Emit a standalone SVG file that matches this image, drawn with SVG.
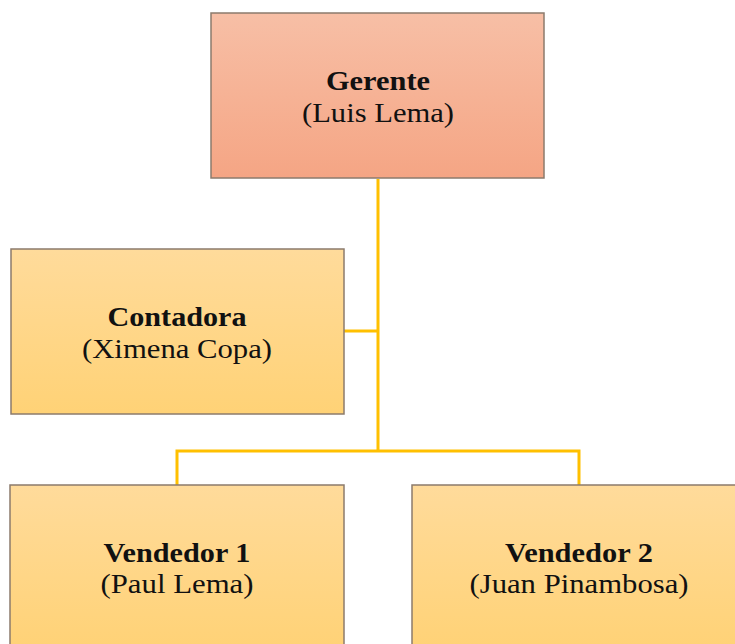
<svg xmlns="http://www.w3.org/2000/svg" width="735" height="644" viewBox="0 0 735 644">
  <defs>
    <linearGradient id="gRed" x1="0" y1="0" x2="0" y2="1">
      <stop offset="0" stop-color="#F7BFA6"/>
      <stop offset="1" stop-color="#F5A584"/>
    </linearGradient>
    <linearGradient id="gOrange" x1="0" y1="0" x2="0" y2="1">
      <stop offset="0" stop-color="#FFDB9B"/>
      <stop offset="1" stop-color="#FFD276"/>
    </linearGradient>
    <linearGradient id="gOrangeTall" gradientUnits="userSpaceOnUse" x1="0" y1="485" x2="0" y2="650">
      <stop offset="0" stop-color="#FFDB9B"/>
      <stop offset="1" stop-color="#FFD276"/>
    </linearGradient>
  </defs>
  <style>
    .box { stroke: #8C7B6C; stroke-width: 1.5; }
    .t { font-family: "Liberation Serif", "Times New Roman", serif; font-size: 27px; fill: #111; text-anchor: middle; }
    .b { font-weight: bold; }
    .conn { fill: none; stroke: #FFC000; stroke-width: 3; }
  </style>
  <rect width="735" height="644" fill="#FFFFFF"/>
  <g id="connectors">
    <path class="conn" d="M378 179 V451"/>
    <path class="conn" d="M344 331 H378"/>
    <path class="conn" d="M177 485 V451 H579 V485"/>
  </g>
  <g id="gerente">
    <rect class="box" x="211" y="13" width="333" height="165" fill="url(#gRed)"/>
    <text class="t b" x="378" y="90" textLength="104" lengthAdjust="spacingAndGlyphs">Gerente</text>
    <text class="t" x="378" y="122" textLength="152" lengthAdjust="spacingAndGlyphs">(Luis Lema)</text>
  </g>
  <g id="contadora">
    <rect class="box" x="11" y="249" width="333" height="165" fill="url(#gOrange)"/>
    <text class="t b" x="177" y="326" textLength="139" lengthAdjust="spacingAndGlyphs">Contadora</text>
    <text class="t" x="177" y="358" textLength="190" lengthAdjust="spacingAndGlyphs">(Ximena Copa)</text>
  </g>
  <g id="vendedor1">
    <rect class="box" x="10" y="485" width="334" height="175" fill="url(#gOrangeTall)"/>
    <text class="t b" x="177" y="562" textLength="147" lengthAdjust="spacingAndGlyphs">Vendedor 1</text>
    <text class="t" x="177" y="593" textLength="153" lengthAdjust="spacingAndGlyphs">(Paul Lema)</text>
  </g>
  <g id="vendedor2">
    <rect class="box" x="412" y="485" width="334" height="175" fill="url(#gOrangeTall)"/>
    <text class="t b" x="579" y="562" textLength="148" lengthAdjust="spacingAndGlyphs">Vendedor 2</text>
    <text class="t" x="579" y="593" textLength="219" lengthAdjust="spacingAndGlyphs">(Juan Pinambosa)</text>
  </g>
</svg>
